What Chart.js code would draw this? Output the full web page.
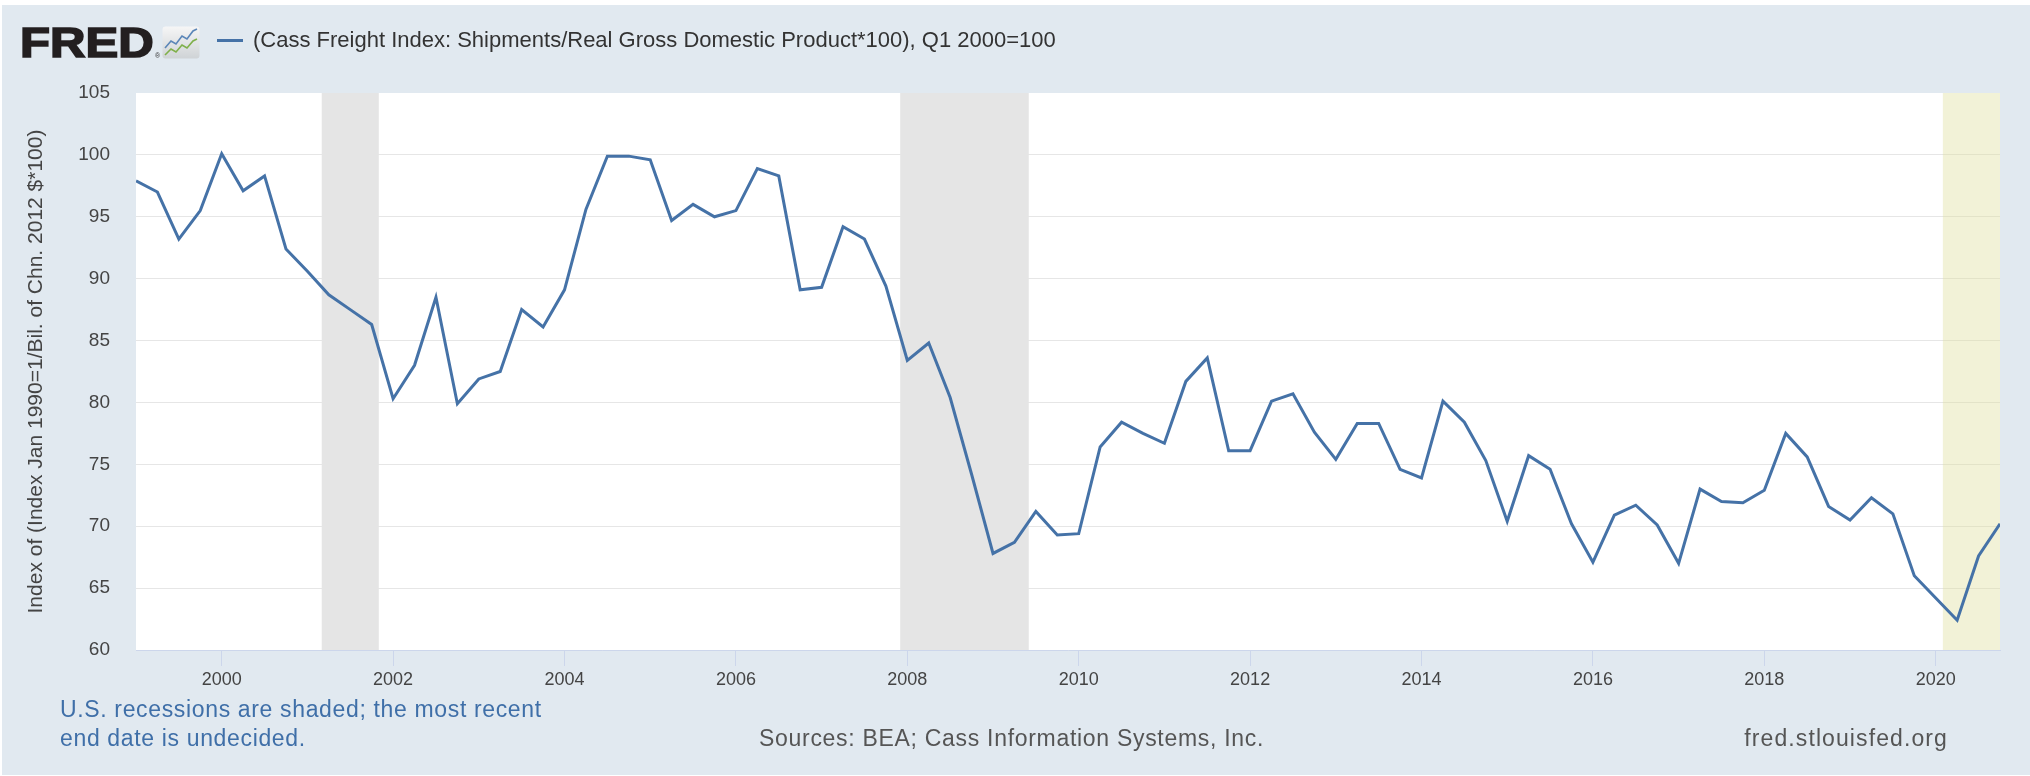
<!DOCTYPE html>
<html>
<head>
<meta charset="utf-8">
<script src="https://cdn.jsdelivr.net/npm/chart.js@4.4.0/dist/chart.umd.min.js"></script>
<style>
  html, body { margin: 0; padding: 0; background: #fff; width: 2030px; height: 776px; overflow: hidden; }
  #panel { position: absolute; left: 2px; top: 5px; width: 2028px; height: 770px; background: #e1e9f0; }
  #chart { position: absolute; left: 0; top: 0; }
  .txt { position: absolute; font-family: "Liberation Sans", Arial, sans-serif; line-height: 1; white-space: nowrap; }
  #logo { left: 20px; top: 22px; font-size: 42px; font-weight: bold; color: #231f20; transform: scaleX(1.17); transform-origin: left top; -webkit-text-stroke: 1.6px #231f20; }
  #reg { left: 155px; top: 52px; font-size: 7px; color: #333; }
  #icon { position: absolute; left: 162px; top: 26px; }
  #legendLine { position: absolute; left: 217px; top: 39px; width: 26px; height: 3px; background: #4572a7; }
  #legendText { left: 253px; top: 29px; font-size: 22px; color: #333; }
  .note { left: 60px; font-size: 23px; color: #3f6fa8; letter-spacing: 0.65px; }
  #sources { left: 759px; top: 727px; font-size: 23px; color: #555; letter-spacing: 0.7px; }
  #site { right: 82px; top: 727px; font-size: 23px; color: #555; letter-spacing: 1.1px; }
</style>
</head>
<body>
<div id="panel"></div>
<canvas id="chart" width="2030" height="776"></canvas>
<div class="txt" id="logo">FRED</div>
<div class="txt" id="reg">®</div>
<svg id="icon" width="38" height="33" viewBox="0 0 38 33">
  <defs>
    <linearGradient id="ig" x1="0" y1="0" x2="0" y2="1">
      <stop offset="0" stop-color="#f6f6f6"/>
      <stop offset="1" stop-color="#cfd3d6"/>
    </linearGradient>
  </defs>
  <rect x="0.5" y="0.5" width="37" height="32" rx="3" fill="url(#ig)"/>
  <polyline points="3,22 9,15 14,18 20,10 25,13 31,5 35,3" fill="none" stroke="#5b86b8" stroke-width="1.6"/>
  <polyline points="3,29 9,23 14,26 20,19 25,22 31,15 35,13" fill="none" stroke="#7fb04a" stroke-width="1.6"/>
</svg>
<div id="legendLine"></div>
<div class="txt" id="legendText">(Cass Freight Index: Shipments/Real Gross Domestic Product*100), Q1 2000=100</div>
<div class="txt note" style="top:698px;">U.S. recessions are shaded; the most recent</div>
<div class="txt note" style="top:727px;">end date is undecided.</div>
<div class="txt" id="sources">Sources: BEA; Cass Information Systems, Inc.</div>
<div class="txt" id="site">fred.stlouisfed.org</div>

<script>
// Quarterly observations, 1999 Q1 .. 2020 Q4
const firstYear = 1999;
const lastYear = 2020;
const quarterLabels = [];
for (let y = firstYear; y <= lastYear; y++) {
    for (let q = 1; q <= 4; q++) quarterLabels.push(y + 'Q' + q);
}

const freightRatio = [
    97.9, 97.0, 93.2, 95.5,
    100.1, 97.1, 98.3, 92.4,
    90.6, 88.7, 87.5, 86.3,
    80.3, 83.0, 88.5, 79.9,
    81.9, 82.5, 87.5, 86.1,
    89.1, 95.6, 99.9, 99.9,
    99.6, 94.7, 96.0, 95.0,
    95.5, 98.9, 98.3, 89.1,
    89.3, 94.2, 93.2, 89.4,
    83.4, 84.8, 80.4, 74.2,
    67.8, 68.7, 71.2, 69.3,
    69.4, 76.4, 78.4, 77.5,
    76.7, 81.7, 83.6, 76.1,
    76.1, 80.1, 80.7, 77.6,
    75.4, 78.3, 78.3, 74.6,
    73.9, 80.1, 78.4, 75.3,
    70.4, 75.7, 74.6, 70.2,
    67.1, 70.9, 71.7, 70.1,
    67.0, 73.0, 72.0, 71.9,
    72.9, 77.5, 75.6, 71.6,
    70.5, 72.3, 71.0, 66.0,
    64.2, 62.4, 67.6, 70.2
];

// recessions (decimal years): Mar-Nov 2001, Dec 2007-Jun 2009, Feb 2020-undecided
const recessionStart = [2001.167, 2007.917];
const recessionEnd = [2001.833, 2009.417];
const openRecessionStart = 2020.083;

const xTickYears = [2000, 2002, 2004, 2006, 2008, 2010, 2012, 2014, 2016, 2018, 2020];
const yTickValues = [60, 65, 70, 75, 80, 85, 90, 95, 100, 105];
const yTitle = 'Index of (Index Jan 1990=1/Bil. of Chn. 2012 $*100)';

function quarterToYear(label) {
    const [y, q] = label.split('Q');
    return Number(y) + (Number(q) - 1) / 4;
}

const points = quarterLabels.map((lbl, i) => ({ x: quarterToYear(lbl), y: freightRatio[i] }));

const bandsPlugin = {
    id: 'recessionBands',
    beforeDraw(chart) {
        const { ctx, chartArea: a } = chart;
        ctx.save();
        ctx.fillStyle = '#ffffff';
        ctx.fillRect(a.left, a.top, a.width, a.height);
        ctx.restore();
    },
    beforeDatasetsDraw(chart) {
        const { ctx, chartArea: a, scales: { x } } = chart;
        ctx.save();
        ctx.fillStyle = '#e5e5e5';
        recessionStart.forEach((s, i) => {
            const x0 = x.getPixelForValue(s);
            const x1 = x.getPixelForValue(recessionEnd[i]);
            ctx.fillRect(x0, a.top, x1 - x0, a.height);
        });
        ctx.fillStyle = 'rgba(225,225,160,0.42)';
        const x2 = x.getPixelForValue(openRecessionStart);
        ctx.fillRect(x2, a.top, a.right - x2, a.height);
        ctx.restore();
    }
};

Chart.defaults.font.family = '"Liberation Sans", Arial, sans-serif';

new Chart(document.getElementById('chart'), {
    type: 'line',
    data: {
        datasets: [{
            label: '(Cass Freight Index: Shipments/Real Gross Domestic Product*100), Q1 2000=100',
            data: points,
            borderColor: '#4572a7',
            borderWidth: 3,
            pointRadius: 0,
            tension: 0,
            fill: false
        }]
    },
    options: {
        responsive: false,
        animation: false,
        devicePixelRatio: 1,
        layout: { padding: { top: 93, right: 30, bottom: 0, left: 0 } },
        plugins: {
            legend: { display: false },
            tooltip: { enabled: false }
        },
        scales: {
            x: {
                type: 'linear',
                min: 1999,
                max: 2020.75,
                afterBuildTicks: axis => { axis.ticks = xTickYears.map(v => ({ value: v })); },
                afterFit: axis => { axis.height = 126; },
                grid: { drawOnChartArea: false, drawTicks: true, tickLength: 16, color: '#ccd6eb', lineWidth: 1 },
                border: { display: true, color: '#ccd6eb', width: 1 },
                ticks: {
                    padding: 3,
                    color: '#444',
                    font: { size: 18 },
                    maxRotation: 0,
                    autoSkip: false,
                    callback: v => String(v)
                }
            },
            y: {
                min: 60,
                max: 105,
                afterBuildTicks: axis => { axis.ticks = yTickValues.map(v => ({ value: v })); },
                afterFit: axis => { axis.width = 136; },
                grid: {
                    color: c => (c.tick && c.tick.value === 105) ? 'rgba(0,0,0,0)' : '#e6e6e6',
                    drawTicks: false,
                    lineWidth: 1
                },
                border: { display: false },
                ticks: { padding: 26, color: '#444', font: { size: 19 } },
                title: {
                    display: true,
                    text: yTitle,
                    color: '#444',
                    font: { size: 21 },
                    padding: { top: 24, bottom: 0 }
                }
            }
        }
    },
    plugins: [bandsPlugin]
});
</script>
</body>
</html>
